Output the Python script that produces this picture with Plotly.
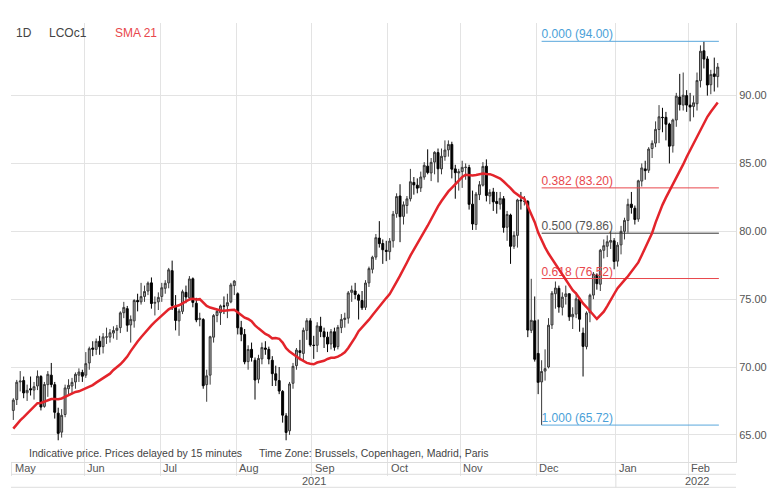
import pandas as pd
import plotly.graph_objects as go

# LCOc1 daily candles, 2021-05-03 .. 2022-02-11 (one row per month)
opens = [
    66.80, 67.60, 68.90, 69.00, 68.10, 68.40, 68.30, 68.60, 69.30, 67.10, 68.70, 69.40, 68.70, 66.60, 65.20, 66.50, 68.40, 68.60, 68.90, 69.40, 69.60,
    69.40, 70.30, 71.40, 71.30, 71.90, 71.50, 72.20, 72.20, 72.50, 72.70, 72.90, 74.00, 74.30, 73.10, 73.40, 74.90, 74.80, 75.20, 75.60, 76.20, 74.70, 74.80,
    75.20, 75.80, 76.20, 77.10, 74.50, 73.40, 74.10, 75.50, 75.10, 76.50, 74.70, 73.50, 73.50, 68.70, 69.40, 72.20, 73.80, 74.00, 74.50, 74.50, 74.80, 76.00,
    75.40, 72.90, 72.40, 70.40, 71.30, 70.50, 69.10, 70.60, 71.40, 71.30, 70.50, 69.50, 69.00, 68.20, 66.40, 65.30, 68.80, 70.10, 71.20, 71.00, 72.70, 73.40,
    71.60, 71.60, 73.00, 72.60, 72.20, 71.70, 72.60, 71.50, 72.90, 73.50, 73.60, 75.50, 75.60, 75.30, 74.90, 74.40, 76.20, 77.20, 78.10, 79.50, 79.10, 78.60,
    78.50, 79.30, 81.30, 82.60, 81.10, 81.90, 82.40, 83.60, 83.40, 83.20, 84.00, 84.80, 84.30, 85.10, 85.80, 84.60, 85.50, 86.00, 86.40, 84.60, 84.30,
    84.40, 84.70, 84.70, 82.00, 80.50, 82.70, 83.40, 84.80, 82.60, 82.90, 82.20, 82.00, 82.40, 80.30, 81.20, 78.90, 79.70, 82.30, 82.20, 82.20, 72.70, 73.40,
    71.00, 68.90, 69.70, 70.00, 73.10, 75.40, 75.80, 74.40, 75.20, 75.40, 73.70, 73.90, 75.00, 72.50, 71.50, 74.00, 75.30, 76.80, 76.10, 78.60, 78.90, 79.20, 79.30,
    77.80, 79.00, 80.00, 80.80, 82.00, 81.70, 80.90, 83.70, 84.60, 84.50, 86.10, 86.50, 87.50, 88.40, 88.40, 87.90, 86.30, 88.20, 89.90, 89.30, 90.00,
    89.30, 89.20, 89.40, 91.10, 93.30, 92.70, 90.80, 91.60, 91.40,
]
highs = [
    67.70, 69.05, 69.70, 69.30, 68.70, 69.30, 68.90, 69.75, 69.40, 68.90, 69.70, 70.30, 68.90, 67.00, 66.90, 68.70, 69.10, 69.20, 69.60, 69.90, 69.80,
    71.10, 71.50, 71.90, 72.10, 72.30, 72.50, 72.90, 72.80, 73.00, 73.10, 74.10, 74.80, 74.50, 73.80, 75.00, 75.40, 76.20, 76.00, 76.30, 76.60, 75.20, 75.50,
    76.20, 76.40, 77.30, 77.84, 75.30, 74.30, 75.70, 76.00, 76.70, 76.60, 75.10, 74.00, 73.60, 69.80, 72.30, 73.90, 74.20, 74.60, 75.20, 75.40, 76.20, 76.40,
    75.50, 73.40, 72.80, 71.60, 71.80, 70.70, 70.90, 71.80, 71.90, 71.50, 70.80, 70.10, 70.00, 68.30, 66.60, 68.90, 70.30, 71.40, 72.00, 72.90, 73.60, 73.60,
    72.30, 73.30, 73.70, 72.90, 72.60, 72.80, 72.90, 73.10, 73.90, 74.00, 75.60, 76.00, 76.20, 75.40, 75.60, 76.40, 77.40, 78.20, 79.80, 80.75, 79.40, 79.30,
    79.50, 81.50, 82.80, 83.47, 82.20, 82.60, 84.60, 84.00, 83.90, 84.40, 85.10, 86.04, 85.40, 85.90, 86.10, 86.10, 86.70, 86.70, 86.60, 84.90, 84.60,
    85.20, 85.00, 84.90, 83.00, 82.90, 83.70, 85.10, 85.30, 83.10, 83.20, 82.90, 82.90, 82.60, 81.50, 81.30, 80.00, 82.40, 82.90, 82.60, 82.30, 76.50, 75.20,
    73.50, 70.50, 71.30, 73.60, 75.60, 76.30, 76.00, 75.50, 76.00, 75.40, 74.40, 75.50, 75.10, 72.90, 74.10, 75.40, 77.00, 76.90, 78.70, 79.40, 79.70, 80.00, 79.50,
    79.20, 80.40, 81.00, 82.40, 82.90, 81.90, 83.80, 85.00, 85.20, 86.20, 86.70, 88.10, 89.30, 89.10, 88.80, 88.00, 88.30, 90.20, 91.60, 91.70, 90.40,
    90.20, 90.00, 91.70, 93.70, 94.00, 92.90, 91.90, 92.80, 92.40,
]
lows = [
    66.10, 67.20, 68.20, 67.70, 67.50, 67.90, 67.60, 68.30, 66.80, 67.00, 67.80, 68.50, 66.20, 64.60, 64.80, 66.30, 68.00, 68.00, 68.40, 68.90, 68.90,
    69.20, 69.80, 70.80, 70.90, 70.90, 71.00, 71.70, 71.80, 72.10, 72.00, 72.50, 73.60, 72.60, 71.80, 72.90, 74.10, 74.60, 74.80, 75.30, 74.30, 73.80, 74.20,
    74.80, 75.40, 75.80, 74.20, 72.70, 72.30, 73.90, 74.70, 74.90, 74.40, 73.30, 73.00, 68.40, 67.44, 68.70, 71.80, 73.30, 73.10, 73.90, 73.60, 74.70, 75.30,
    72.40, 71.90, 70.20, 69.80, 70.40, 67.60, 68.80, 70.20, 70.90, 70.20, 68.60, 68.60, 68.00, 65.90, 64.60, 65.00, 68.40, 69.80, 70.50, 70.50, 72.00, 71.50,
    70.60, 71.10, 72.20, 71.40, 71.10, 71.30, 71.20, 71.30, 72.50, 72.90, 73.20, 74.80, 75.00, 73.50, 74.20, 74.20, 75.90, 76.90, 77.90, 78.80, 77.60, 77.80,
    77.90, 78.80, 81.00, 79.20, 80.50, 81.30, 82.20, 82.70, 82.80, 82.90, 83.80, 84.20, 83.70, 84.20, 83.60, 84.20, 85.20, 85.50, 83.90, 82.40, 83.00,
    83.20, 83.80, 81.60, 80.10, 80.10, 82.30, 83.30, 82.20, 82.00, 81.50, 81.30, 81.60, 79.90, 79.30, 77.60, 78.70, 78.80, 81.60, 81.90, 72.20, 72.50, 70.40,
    68.00, 65.72, 69.00, 69.90, 72.80, 74.30, 74.00, 73.80, 74.60, 73.40, 72.80, 73.60, 72.60, 69.30, 71.30, 73.30, 75.00, 75.70, 75.60, 78.00, 78.10, 78.70, 77.20,
    77.40, 78.30, 79.40, 79.90, 81.30, 80.50, 80.70, 83.30, 83.80, 84.30, 85.40, 86.20, 86.50, 87.30, 86.70, 85.00, 85.80, 87.70, 88.90, 88.90, 88.80,
    88.10, 88.40, 88.90, 90.60, 92.00, 90.00, 90.10, 90.30, 90.60,
]
closes = [
    67.56, 68.88, 68.96, 68.09, 68.28, 68.32, 68.55, 69.32, 67.05, 68.71, 69.46, 68.71, 66.66, 65.11, 66.44, 68.46, 68.65, 68.87, 69.46, 69.63, 69.32,
    70.25, 71.35, 71.31, 71.89, 71.49, 72.22, 72.22, 72.52, 72.69, 72.86, 73.99, 74.39, 73.08, 73.51, 74.90, 74.81, 75.19, 75.56, 76.18, 74.68, 74.76, 75.13,
    75.84, 76.17, 77.16, 74.53, 73.43, 74.12, 75.55, 75.16, 76.49, 74.76, 73.47, 73.59, 68.62, 69.35, 72.23, 73.79, 74.10, 74.50, 74.48, 74.74, 76.05, 76.33,
    72.89, 72.41, 70.38, 71.29, 70.70, 69.04, 70.63, 71.44, 71.31, 70.59, 69.51, 69.03, 68.23, 66.45, 65.18, 68.75, 70.05, 71.25, 71.07, 72.70, 73.41, 71.63,
    71.59, 73.03, 72.61, 72.22, 71.69, 72.60, 71.45, 72.92, 73.51, 73.60, 75.46, 75.67, 75.34, 74.92, 74.36, 76.19, 77.25, 78.09, 79.53, 79.09, 78.64, 78.52,
    79.28, 81.26, 82.56, 81.08, 81.95, 82.39, 83.65, 83.42, 83.18, 84.00, 84.86, 84.33, 85.08, 85.82, 84.61, 85.53, 85.99, 86.40, 84.58, 84.32, 84.38,
    84.71, 84.72, 81.99, 80.54, 82.74, 83.43, 84.78, 82.64, 82.87, 82.17, 82.05, 82.43, 80.28, 81.24, 78.89, 79.70, 82.31, 82.25, 82.22, 72.72, 73.44, 70.57,
    68.87, 69.67, 69.88, 73.08, 75.44, 75.82, 74.42, 75.15, 75.39, 73.70, 73.88, 75.02, 73.52, 71.52, 73.98, 75.29, 76.85, 76.14, 78.60, 78.94, 79.23, 79.32, 77.78,
    78.98, 80.00, 80.80, 81.99, 81.75, 80.87, 83.72, 84.67, 84.47, 86.06, 86.48, 87.51, 88.44, 88.38, 87.89, 86.27, 88.20, 89.96, 89.34, 90.03, 89.30,
    89.16, 89.47, 91.11, 93.27, 92.69, 90.78, 91.55, 91.41, 92.10,
]

# the 20 sessions before the first candle, only used to seed the SMA 21
lead_in_closes = [62.15, 62.74, 63.16, 63.20, 62.95, 63.28, 63.67, 66.58, 66.94, 66.77,
                  67.05, 66.57, 65.32, 65.40, 66.11, 65.65, 66.42, 67.27, 68.56, 67.25]

fib_ratios = [0.000, 0.382, 0.500, 0.618, 1.000]
fib_levels = [94.00, 83.20, 79.86, 76.52, 65.72]
fib_line_colors = ["#5aa7dc", "#e8474c", "#333333", "#e8474c", "#5aa7dc"]
fib_text_colors = ["#4a9fd8", "#e8474c", "#555555", "#e8474c", "#4a9fd8"]
fib_anchor = "2021-12-02"

y_ticks = [65, 70, 75, 80, 85, 90]

days = pd.bdate_range("2021-05-03", "2022-02-11")
assert len(days) == len(opens) == len(highs) == len(lows) == len(closes), (
    len(days), len(opens), len(highs), len(lows), len(closes))
x = days + pd.Timedelta(hours=12)

sma = pd.Series(lead_in_closes + closes).rolling(21).mean().iloc[len(lead_in_closes):].round(2).tolist()

# first session of every month -> grid lines and month labels
month_starts = pd.Series(days).groupby([days.year, days.month]).first().tolist()

fib_x0 = pd.Timestamp(fib_anchor) + pd.Timedelta(hours=12)
fib_x1 = days[-1] + pd.Timedelta(hours=20)

fig = go.Figure()

for r, lvl, lc, tc in zip(fib_ratios, fib_levels, fib_line_colors, fib_text_colors):
    fig.add_trace(go.Scatter(x=[fib_x0, fib_x1], y=[lvl, lvl], mode="lines",
                             line=dict(color=lc, width=1), hoverinfo="skip"))
    fig.add_trace(go.Scatter(x=[fib_x0], y=[lvl], mode="text", text=[f"{r:.3f} ({lvl:.2f})"],
                             textposition="top right", textfont=dict(size=12, color=tc),
                             hoverinfo="skip"))

fig.add_trace(go.Candlestick(
    x=x, open=opens, high=highs, low=lows, close=closes,
    increasing=dict(line=dict(color="#3a3a3a", width=1), fillcolor="#a2a2a2"),
    decreasing=dict(line=dict(color="#000000", width=1), fillcolor="#000000"),
    whiskerwidth=0, name="LCOc1",
))

fig.add_trace(go.Scatter(x=x, y=sma, mode="lines", name="SMA 21",
                         line=dict(color="#e3242b", width=2.5)))

grid = "#e3e3e3"
annotations = [
    dict(text="1D", x=0.004, y=0.977, font=dict(size=12, color="#444444")),
    dict(text="LCOc1", x=0.0497, y=0.977, font=dict(size=12, color="#444444")),
    dict(text="SMA 21", x=0.1407, y=0.977, font=dict(size=12, color="#e8474c")),
    dict(text="Indicative price. Prices delayed by 15 minutes", x=0.022, y=0.0205,
         font=dict(size=10.5, color="#444444")),
    dict(text="Time Zone: Brussels, Copenhagen, Madrid, Paris", x=0.339, y=0.0205,
         font=dict(size=10.5, color="#444444")),
]
for a in annotations:
    a.update(xref="paper", yref="paper", xanchor="left", yanchor="middle", showarrow=False)

for d in month_starts:
    annotations.append(dict(text=d.strftime("%b"), x=d, xref="x", y=-0.0137, yref="paper",
                            xanchor="left", yanchor="middle", xshift=1, showarrow=False,
                            font=dict(size=11, color="#555555")))
for yr, px in [("2021", 0.418), ("2022", 0.946)]:
    annotations.append(dict(text=yr, x=px, xref="paper", y=-0.0444, yref="paper",
                            xanchor="center", yanchor="middle", showarrow=False,
                            font=dict(size=11, color="#555555")))

shapes = [
    dict(type="line", xref="paper", yref="paper", x0=0, x1=1, y0=-0.028, y1=-0.028,
         line=dict(color="#dddddd", width=1)),
    dict(type="line", xref="paper", yref="paper", x0=0, x1=1, y0=-0.0576, y1=-0.0576,
         line=dict(color="#dddddd", width=1)),
    dict(type="line", xref="x", yref="paper", x0=month_starts[8], x1=month_starts[8],
         y0=-0.028, y1=-0.0576, line=dict(color="#dddddd", width=1)),
]

# the page body adds 8px on the left and top, so the figure is 8px smaller
fig.update_layout(
    width=770, height=494,
    margin=dict(l=3, r=42, t=15, b=40),
    paper_bgcolor="white", plot_bgcolor="white",
    showlegend=False,
    boxgap=0.2,
    font=dict(family="Liberation Sans, Arial, sans-serif", size=11, color="#555555"),
    annotations=annotations,
    shapes=shapes,
    xaxis=dict(
        type="date",
        range=["2021-04-30 20:00", "2022-02-18 19:00"],
        rangebreaks=[dict(bounds=["sat", "mon"])],
        rangeslider=dict(visible=False),
        tickvals=month_starts, showticklabels=False,
        ticks="outside", ticklen=13, tickcolor=grid, tickwidth=1,
        showgrid=True, gridcolor=grid, gridwidth=1,
        showline=True, linecolor="#dddddd", zeroline=False,
    ),
    yaxis=dict(
        side="right", range=[63.0, 95.35],
        tickvals=y_ticks, tickformat=".2f",
        tickfont=dict(size=11, color="#555555"),
        showgrid=True, gridcolor=grid, gridwidth=1,
        showline=True, linecolor="#dddddd", zeroline=False, ticks="",
    ),
)

fig.write_html("out.html")
